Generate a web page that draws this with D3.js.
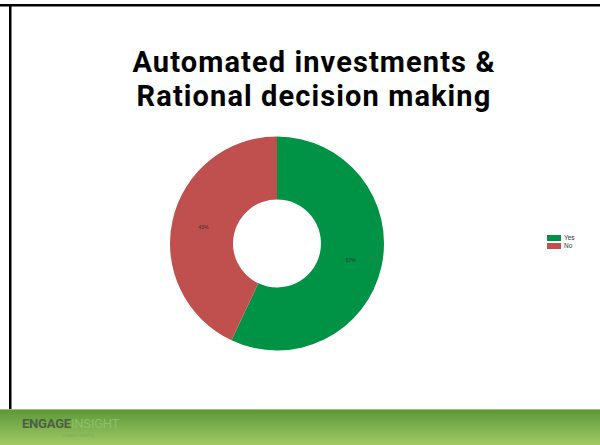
<!DOCTYPE html>
<html lang='en'>
  <head>
    <style type='text/css'>
      body {margin: 0; background-color: #fff;}
      svg {display: block;}
    </style>
  </head>
  <body>
    <svg id='chart' width='600' height='445'></svg>

    <script src='https://d3js.org/d3.v7.min.js'></script>
    <script type='text/javascript'>
        // data
        var categories = ["Yes", "No"];
        var values = [57, 43];
        var colors = ["#009245", "#c0504d"];
        var titleLines = ["Automated investments &", "Rational decision making"];

        var svg = d3.select("#chart");
        var width = 600, height = 445;

        // footer banner gradient
        var defs = svg.append("defs");
        var grad = defs.append("linearGradient").attr("id", "banner")
            .attr("x1", 0).attr("y1", 0).attr("x2", 0).attr("y2", 1);
        grad.append("stop").attr("offset", "0%").attr("stop-color", "#5a9838");
        grad.append("stop").attr("offset", "100%").attr("stop-color", "#a2c963");

        svg.append("rect")
            .attr("x", 0).attr("y", 409).attr("width", width).attr("height", height - 409)
            .attr("fill", "url(#banner)");
        svg.append("line")
            .attr("x1", 0).attr("x2", width).attr("y1", 409.5).attr("y2", 409.5)
            .attr("stroke", "#9cc27a").attr("stroke-width", 1);

        // slide frame
        svg.append("rect")
            .attr("x", 0).attr("y", 4).attr("width", width).attr("height", 2.5)
            .attr("fill", "#000");
        svg.append("rect")
            .attr("x", 9).attr("y", 4).attr("width", 2.5).attr("height", 405)
            .attr("fill", "#000");

        // logo
        var logo = svg.append("text")
            .attr("x", 22).attr("y", 428)
            .attr("font-family", "Roboto, sans-serif")
            .attr("font-weight", "bold")
            .attr("font-size", 13)
            .attr("letter-spacing", "-0.2");
        logo.append("tspan").attr("fill", "#4c5e44").text("ENGAGE");
        logo.append("tspan").attr("fill", "#8fbf6a").attr("font-weight", "normal").text("INSIGHT");
        svg.append("text")
            .attr("x", 62).attr("y", 437)
            .attr("font-family", "sans-serif")
            .attr("font-size", 4.5)
            .attr("fill", "#7fae5c")
            .text("creative thinking");

        // title: one line per text
        svg.append("g").selectAll("text").data(titleLines)
          .enter().append("text")
            .attr("x", 314)
            .attr("y", function(d, i) { return 72 + i * 34; })
            .attr("text-anchor", "middle")
            .attr("font-family", "Roboto, sans-serif")
            .attr("font-weight", "bold")
            .attr("font-size", 29)
            .attr("letter-spacing", "1.1")
            .attr("fill", "#000")
            .text(function(d) { return d; });

        // donut
        var cx = 277, cy = 243.5, outerR = 107, innerR = 44;
        var pie = d3.pie().sort(null).value(function(d) { return d; });
        var arc = d3.arc().innerRadius(innerR).outerRadius(outerR);
        var color = d3.scaleOrdinal().domain(categories).range(colors);

        var g = svg.append("g").attr("transform", "translate(" + cx + "," + cy + ")");
        var slices = g.selectAll("g").data(pie(values))
          .enter().append("g");

        slices.append("path")
            .attr("d", arc)
            .attr("fill", function(d, i) { return color(categories[i]); });

        slices.append("text")
            .attr("transform", function(d) { return "translate(" + arc.centroid(d) + ")"; })
            .attr("dy", "0.35em")
            .attr("text-anchor", "middle")
            .attr("font-family", "Liberation Sans, Arial, sans-serif")
            .attr("font-size", 5)
            .attr("fill", "#333")
            .text(function(d) { return d.value + "%"; });

        // legend
        var legend = svg.append("g").attr("transform", "translate(547,235)");
        var item = legend.selectAll("g").data(categories)
          .enter().append("g")
            .attr("transform", function(d, i) { return "translate(0," + i * 8 + ")"; });
        item.append("rect")
            .attr("width", 14).attr("height", 6)
            .attr("fill", function(d) { return color(d); });
        item.append("text")
            .attr("x", 17).attr("y", 3)
            .attr("dy", "0.35em")
            .attr("font-family", "Liberation Sans, Arial, sans-serif")
            .attr("font-size", 6.5)
            .attr("fill", "#333")
            .text(function(d) { return d; });
    </script>
  </body>
</html>
